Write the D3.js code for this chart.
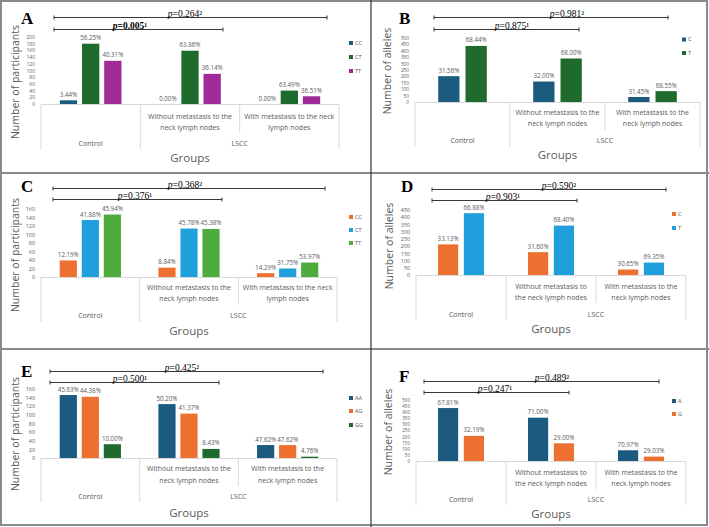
<!DOCTYPE html>
<html><head><meta charset="utf-8">
<script src="https://cdn.jsdelivr.net/npm/d3@7"></script>
<style>body{margin:0;background:#fff}svg{display:block}</style>
</head><body>
<svg id="c" width="709" height="527"></svg>
<script>
// ---------- DATA ----------
const groupLabels = ["Control", "LSCC"];
const categories = ["Control", "Without metastasis to the neck lymph nodes", "With metastasis to the neck lymph nodes"];

const seriesA = ["CC", "CT", "TT"];
const valuesA = [[11, 180, 129], [0, 159, 90], [0, 40, 23]];
const pctA = [["3.44%", "56.25%", "40.31%"], ["0.00%", "63.86%", "36.14%"], ["0.00%", "63.49%", "36.51%"]];
const ticksA = [0, 20, 40, 60, 80, 100, 120, 140, 160, 180, 200];
const pA = [["0.264", "²", false], ["0.005", "¹", true]];

const seriesB = ["C", "T"];
const valuesB = [[202, 438], [160, 340], [39, 85]];
const pctB = [["31.56%", "68.44%"], ["32.00%", "68.00%"], ["31.45%", "68.55%"]];
const ticksB = [0, 50, 100, 150, 200, 250, 300, 350, 400, 450, 500];
const pB = [["0.981", "²", false], ["0.875", "¹", false]];

const seriesC = ["CC", "CT", "TT"];
const valuesC = [[39, 134, 147], [22, 114, 113], [9, 20, 34]];
const pctC = [["12.19%", "41.88%", "45.94%"], ["8.84%", "45.78%", "45.38%"], ["14.29%", "31.75%", "53.97%"]];
const ticksC = [0, 20, 40, 60, 80, 100, 120, 140, 160];
const pC = [["0.368", "²", false], ["0.376", "¹", false]];

const seriesD = ["C", "T"];
const valuesD = [[212, 428], [158, 342], [38, 86]];
const pctD = [["33.13%", "66.88%"], ["31.60%", "68.40%"], ["30.65%", "69.35%"]];
const ticksD = [0, 50, 100, 150, 200, 250, 300, 350, 400, 450];
const pD = [["0.590", "²", false], ["0.903", "¹", false]];

const seriesE = ["AA", "AG", "GG"];
const valuesE = [[146, 142, 32], [125, 103, 21], [30, 30, 3]];
const pctE = [["45.63%", "44.38%", "10.00%"], ["50.20%", "41.37%", "8.43%"], ["47.62%", "47.62%", "4.76%"]];
const ticksE = [0, 20, 40, 60, 80, 100, 120, 140, 160];
const pE = [["0.425", "²", false], ["0.500", "¹", false]];

const seriesF = ["A", "G"];
const valuesF = [[434, 206], [355, 145], [88, 36]];
const pctF = [["67.81%", "32.19%"], ["71.00%", "29.00%"], ["70.97%", "29.03%"]];
const ticksF = [0, 50, 100, 150, 200, 250, 300, 350, 400, 450, 500];
const pF = [["0.489", "²", false], ["0.247", "¹", false]];

// ---------- STYLE ----------
const BLUE = "#1c5b80", GREEN = "#1e6b2d", MAGENTA = "#a02a98", ORANGE = "#ee7030", SKY = "#1fa0dc", LGREEN = "#4dac3c";
const TXT = "#595959", AXL = "#d9d9d9";
const FONT = "'Open Sans', Lato, sans-serif";
const SERIF = "'Liberation Serif', 'DejaVu Serif', serif";

const svg = d3.select("#c");

function panel(o) {
  const g = svg.append("g");
  const x = d3.scaleBand().domain(d3.range(categories.length)).range([o.x0, o.x1]).padding(0);
  const xs = d3.scaleBand().domain(o.series).range([0, x.bandwidth()]).paddingInner(0.22).paddingOuter(0.85);
  const y = d3.scaleLinear().domain([0, d3.max(o.ticks)]).range([o.y0, o.yTop]);
  const tickGap = (o.y0 - o.yTop) / (o.ticks.length - 1);
  const tickFont = Math.min(5.4, tickGap * 0.74);

  // y axis
  const ax = g.append("g").attr("transform", `translate(${o.x0},0)`)
    .call(d3.axisLeft(y).tickValues(o.ticks).tickSize(0).tickPadding(6).tickFormat(d3.format("d")));
  ax.select(".domain").remove();
  ax.selectAll("text").attr("font-family", FONT).attr("font-size", tickFont).attr("fill", TXT);

  // category axis lines
  g.append("line").attr("x1", o.x0).attr("x2", o.x1).attr("y1", o.y0 + 0.5).attr("y2", o.y0 + 0.5).attr("stroke", AXL);
  [[o.x0, o.bot], [x(1), o.bot], [x(2), o.subBot], [o.x1, o.bot]].forEach(([xx, yb]) => {
    g.append("line").attr("x1", xx).attr("x2", xx).attr("y1", o.y0).attr("y2", yb).attr("stroke", AXL);
  });

  // bars
  o.values.forEach((row, ci) => {
    row.forEach((v, si) => {
      const bx = x(ci) + xs(o.series[si]);
      g.append("rect").attr("x", bx).attr("y", y(v)).attr("width", xs.bandwidth())
        .attr("height", o.y0 - y(v)).attr("fill", o.colors[si]);
      g.append("text").attr("x", bx + xs.bandwidth() / 2).attr("y", y(v) - 3.5)
        .attr("text-anchor", "middle").attr("font-family", FONT).attr("font-size", 6.2)
        .attr("fill", TXT).text(o.pct[ci][si]);
    });
  });

  // category labels
  const sub = o.subLines;
  [1, 2].forEach(ci => {
    sub[ci - 1].forEach((t, li) => {
      g.append("text").attr("x", x(ci) + x.bandwidth() / 2).attr("y", o.subY[li]).attr("dy", "0.35em")
        .attr("text-anchor", "middle").attr("font-family", FONT).attr("font-size", 7)
        .attr("fill", TXT).text(t);
    });
  });
  g.append("text").attr("x", x(0) + x.bandwidth() / 2).attr("y", o.grpY).attr("dy", "0.35em")
    .attr("text-anchor", "middle").attr("font-family", FONT).attr("font-size", 7).attr("fill", TXT).text(groupLabels[0]);
  g.append("text").attr("x", (x(1) + o.x1) / 2).attr("y", o.grpY).attr("dy", "0.35em")
    .attr("text-anchor", "middle").attr("font-family", FONT).attr("font-size", 7).attr("fill", TXT).text(groupLabels[1]);

  // axis titles
  g.append("text").attr("x", (o.x0 + o.x1) / 2).attr("y", o.groupsY).attr("dy", "0.35em")
    .attr("text-anchor", "middle").attr("font-family", FONT).attr("font-size", 11.5).attr("fill", TXT).text("Groups");
  g.append("text").attr("transform", `translate(${o.ytx},${o.yty}) rotate(-90)`).attr("dy", "0.35em")
    .attr("text-anchor", "middle").attr("font-family", FONT).attr("font-size", 10.5).attr("fill", TXT).text(o.ytitle);

  // legend
  o.series.forEach((s, i) => {
    g.append("rect").attr("x", o.lx).attr("y", o.ly[i] - 2).attr("width", 4).attr("height", 4).attr("fill", o.colors[i]);
    g.append("text").attr("x", o.lx + 6).attr("y", o.ly[i]).attr("dy", "0.35em")
      .attr("font-family", FONT).attr("font-size", 5.6).attr("fill", TXT).text(s);
  });

  // panel letter
  g.append("text").attr("x", o.letterX).attr("y", o.letterY).attr("font-family", SERIF)
    .attr("font-weight", "bold").attr("font-size", 17).attr("fill", "#000").text(o.letter);

  // brackets
  o.brackets.forEach((b, i) => {
    const [bx0, bx1, by, tx] = b;
    const [val, sup, bold] = o.p[i];
    g.append("line").attr("x1", bx0).attr("x2", bx1).attr("y1", by).attr("y2", by).attr("stroke", "#222").attr("stroke-width", 0.9);
    [bx0, bx1].forEach(xx => g.append("line").attr("x1", xx).attr("x2", xx).attr("y1", by - 2).attr("y2", by + 2)
      .attr("stroke", "#222").attr("stroke-width", 0.9));
    const t = g.append("text").attr("x", tx).attr("y", by - 0.8).attr("text-anchor", "middle")
      .attr("font-family", SERIF).attr("font-size", 9.5).attr("fill", "#000")
      .attr("font-weight", bold ? "bold" : "normal");
    t.append("tspan").attr("font-style", "italic").text("p");
    t.append("tspan").text("=" + val + sup);
  });
}

// ---------- FRAME ----------
svg.append("rect").attr("x", 1).attr("y", 1).attr("width", 706).attr("height", 524)
  .attr("fill", "none").attr("stroke", "#8a8a8a").attr("stroke-width", 2);
svg.append("line").attr("x1", 0).attr("x2", 709).attr("y1", 173).attr("y2", 173).attr("stroke", "#8a8a8a").attr("stroke-width", 2);
svg.append("line").attr("x1", 0).attr("x2", 709).attr("y1", 349).attr("y2", 349).attr("stroke", "#8a8a8a").attr("stroke-width", 2);
svg.append("line").attr("x1", 371).attr("x2", 371).attr("y1", 0).attr("y2", 527).attr("stroke", "#333").attr("stroke-width", 1.2);

const wrapAC = [["Without metastasis to the", "neck lymph nodes"], ["With metastasis to the neck", "lymph nodes"]];
const wrapBE = [["Without metastasis to the", "neck lymph nodes"], ["With metastasis to the", "neck lymph nodes"]];
const wrapDF = [["Without metastasis to", "the neck lymph nodes"], ["With metastasis to the", "neck lymph nodes"]];

panel({letter: "A", letterX: 21, letterY: 24, series: seriesA, values: valuesA, pct: pctA, ticks: ticksA, p: pA,
  colors: [BLUE, GREEN, MAGENTA], x0: 41, x1: 339, y0: 104, yTop: 37, bot: 149, subBot: 133,
  subLines: wrapAC, subY: [117, 127.5], grpY: 144, groupsY: 158, ytx: 15, yty: 82, ytitle: "Number of participants",
  lx: 349, ly: [43, 57, 71], brackets: [[54, 327, 17.5, 185], [54, 223, 29.5, 130]]});

panel({letter: "B", letterX: 399, letterY: 24, series: seriesB, values: valuesB, pct: pctB, ticks: ticksB, p: pB,
  colors: [BLUE, GREEN], x0: 415, x1: 700, y0: 102, yTop: 38, bot: 147, subBot: 130,
  subLines: wrapBE, subY: [113, 124], grpY: 141, groupsY: 155, ytx: 387, yty: 71, ytitle: "Number of alleles",
  lx: 682, ly: [39.5, 53], brackets: [[434, 668, 17.5, 567], [434, 579, 29.5, 512]]});

panel({letter: "C", letterX: 21, letterY: 192, series: seriesC, values: valuesC, pct: pctC, ticks: ticksC, p: pC,
  colors: [ORANGE, SKY, LGREEN], x0: 41, x1: 337, y0: 277, yTop: 209, bot: 322, subBot: 305,
  subLines: wrapAC, subY: [288, 299], grpY: 316, groupsY: 331, ytx: 15, yty: 255, ytitle: "Number of participants",
  lx: 349, ly: [217, 230, 243], brackets: [[53, 325, 188.5, 185], [53, 222, 199.5, 135]]});

panel({letter: "D", letterX: 401, letterY: 192, series: seriesD, values: valuesD, pct: pctD, ticks: ticksD, p: pD,
  colors: [ORANGE, SKY], x0: 416, x1: 686, y0: 275, yTop: 210, bot: 320, subBot: 303,
  subLines: wrapDF, subY: [287, 298], grpY: 315, groupsY: 329, ytx: 389, yty: 246, ytitle: "Number of alleles",
  lx: 672, ly: [214, 228], brackets: [[432, 666, 189.5, 559], [432, 577, 200.5, 503]]});

panel({letter: "E", letterX: 21, letterY: 377, series: seriesE, values: valuesE, pct: pctE, ticks: ticksE, p: pE,
  colors: [BLUE, ORANGE, GREEN], x0: 41, x1: 337, y0: 458, yTop: 389, bot: 502, subBot: 486,
  subLines: wrapBE, subY: [469, 481], grpY: 497, groupsY: 513, ytx: 15, yty: 434, ytitle: "Number of participants",
  lx: 349, ly: [398, 411, 425], brackets: [[50, 323, 371.5, 182], [50, 219, 382.5, 130]]});

panel({letter: "F", letterX: 399, letterY: 382, series: seriesF, values: valuesF, pct: pctF, ticks: ticksF, p: pF,
  colors: [BLUE, ORANGE], x0: 416, x1: 686, y0: 461, yTop: 400, bot: 505, subBot: 489,
  subLines: wrapDF, subY: [473, 484], grpY: 500, groupsY: 514, ytx: 388, yty: 432, ytitle: "Number of alleles",
  lx: 672, ly: [401, 414], brackets: [[424, 659, 381.5, 552], [424, 569, 392.5, 495]]});
</script>
</body></html>
